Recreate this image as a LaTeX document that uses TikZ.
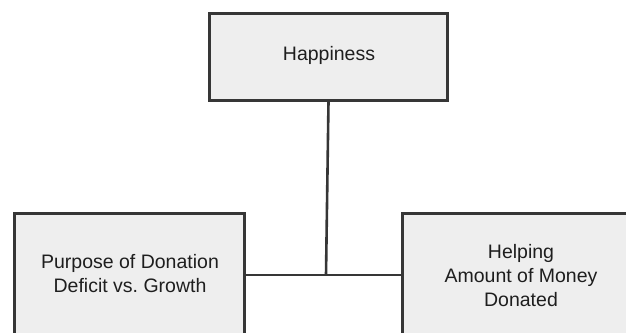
\documentclass[tikz,border=0pt]{standalone}
\usepackage{fontspec}
\setmainfont{Liberation Sans}
\frenchspacing
\definecolor{boxfill}{HTML}{EEEEEE}
\definecolor{boxline}{HTML}{363636}
\definecolor{txt}{HTML}{1E1E1E}
\tikzset{
  box/.style={draw=boxline, fill=boxfill, line width=3pt, rectangle, inner sep=0pt},
  lbl/.style={text=txt, align=center, font=\fontsize{19.5}{24}\selectfont, inner sep=0pt},
  conn/.style={draw=boxline, line width=2.6pt}
}
\begin{document}
\begin{tikzpicture}[x=1pt,y=1pt]
\useasboundingbox (0,0) rectangle (626,-332);
\clip (0,0) rectangle (626,-332);
\coordinate (j) at (326,-275);
\node[box, minimum width=238pt, minimum height=86.5pt] (happy) at (328.5,-56.75) {};
\node[box, minimum width=230pt, minimum height=131.5pt] (left) at (129,-279.25) {};
\node[box, minimum width=237.5pt, minimum height=131.5pt] (right) at (521.25,-279.25) {};
\draw[conn] (happy.south) -- (j);
\draw[conn] (left.east |- j) -- (right.west |- j);
\node[lbl] (happytext) at (329,-55) {Happiness};
\node[lbl] (lefttext) at (130,-273.5) {Purpose of Donation\\Deficit vs.\ Growth};
\node[lbl] (righttext) at (521,-275.5) {Helping\\Amount of Money\\Donated};
\end{tikzpicture}
\end{document}
